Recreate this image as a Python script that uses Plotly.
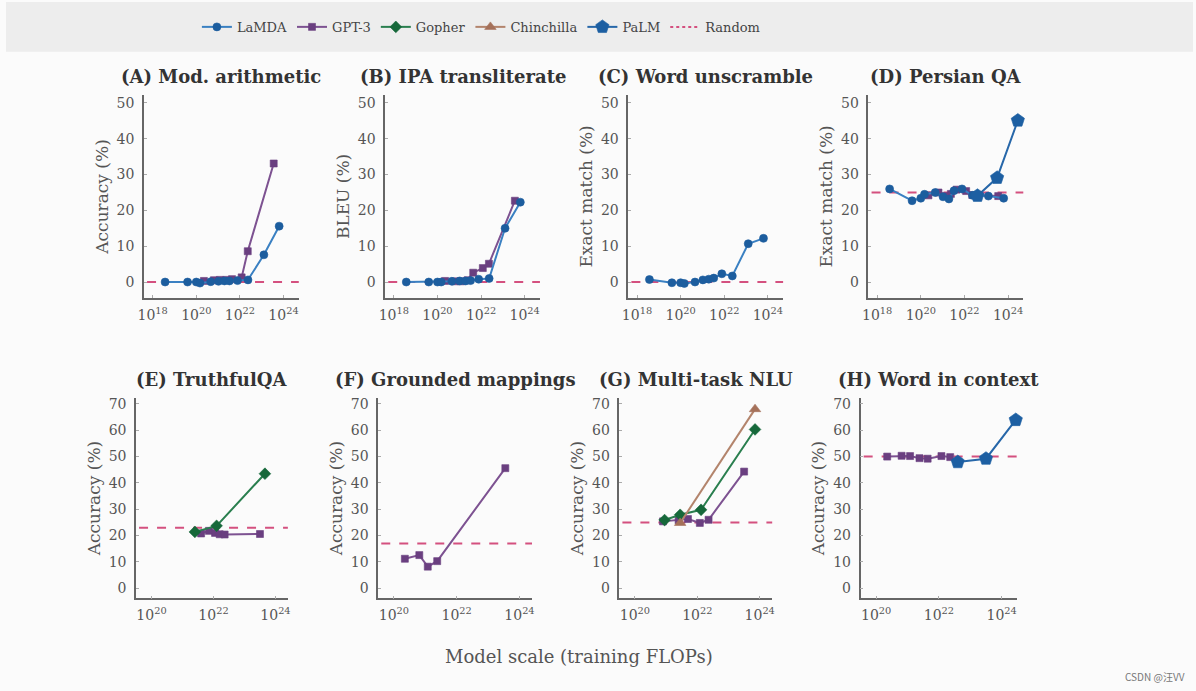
import numpy as np
import plotly.graph_objects as go

W, H = 1196, 691

# ---------------- data (log10 training FLOPs, score %) ----------------
LAMDA_X = [18.57, 19.6, 20.0, 20.17, 20.66, 21.02, 21.29, 21.52, 21.89, 22.37, 23.1, 23.8]
GPT3_X = [20.35, 20.81, 21.08, 21.38, 21.64, 22.08, 22.36, 23.55]
PALM_X = [22.6, 23.5, 24.45]

A_LAMDA = [0, 0, 0, -0.3, 0.1, 0.2, 0.3, 0.3, 0.4, 0.6, 7.6, 15.6]
A_GPT3 = [0.3, 0.5, 0.6, 0.6, 0.8, 1.3, 8.6, 33.1]

B_LAMDA = [0, 0, 0, 0, 0.2, 0.3, 0.3, 0.4, 0.8, 1.0, 15.0, 22.3]
B_GPT3 = [0.3, 0.2, 0.2, 0.5, 2.6, 3.9, 5.1, 22.7]

C_LAMDA = [0.7, -0.2, -0.2, -0.4, 0.0, 0.6, 0.8, 1.1, 2.3, 1.7, 10.7, 12.2]

D_LAMDA = [26.0, 22.7, 23.4, 24.5, 25.0, 23.8, 23.2, 25.5, 26.0, 24.2, 24.0, 23.4]
D_GPT3 = [24.2, 25.0, 24.0, 24.6, 25.8, 25.4, 24.3, 24.0]
D_PALM = [24.1, 29.1, 45.1]

E_GOPHER_X = [21.4, 22.1, 23.66]
E_GOPHER = [21.4, 23.7, 43.5]
E_GPT3_X = [21.6, 21.85, 22.05, 22.2, 22.36, 23.5]
E_GPT3 = [20.8, 21.8, 21.0, 20.5, 20.4, 20.6]

F_GPT3_X = [20.35, 20.81, 21.08, 21.38, 23.55]
F_GPT3 = [11.2, 12.6, 8.2, 10.3, 45.6]

G_GOPHER_X = [20.95, 21.45, 22.12, 23.85]
G_GOPHER = [25.9, 27.9, 29.8, 60.3]
G_CHIN_X = [21.45, 23.85]
G_CHIN = [24.8, 68.0]
G_GPT3_X = [20.9, 21.4, 21.7, 22.08, 22.36, 23.5]
G_GPT3 = [25.4, 25.8, 26.3, 24.8, 26.0, 44.3]

H_GPT3_X = [20.35, 20.81, 21.08, 21.38, 21.64, 22.08, 22.36]
H_GPT3 = [50.0, 50.3, 50.2, 49.4, 49.2, 50.2, 49.8]
H_PALM = [47.9, 49.2, 63.9]

RANDOM = [0, 0, 0, 25, 23, 17, 25, 50]

TITLES = ["(A) Mod. arithmetic", "(B) IPA transliterate", "(C) Word unscramble", "(D) Persian QA",
          "(E) TruthfulQA", "(F) Grounded mappings", "(G) Multi-task NLU", "(H) Word in context"]
YTITLES = ["Accuracy (%)", "BLEU (%)", "Exact match (%)", "Exact match (%)",
           "Accuracy (%)", "Accuracy (%)", "Accuracy (%)", "Accuracy (%)"]
TOP_XTICKS = [18, 20, 22, 24]
BOT_XTICKS = [20, 22, 24]
TOP_YTICKS = [0, 10, 20, 30, 40, 50]
BOT_YTICKS = [0, 10, 20, 30, 40, 50, 60, 70]
SERIES_ORDER = ["LaMDA", "GPT-3", "Gopher", "Chinchilla", "PaLM"]

# ---------------- styling / layout ----------------
STYLE = {
    "LaMDA": dict(color="#3a80c2", mcolor="#1c5d9e", symbol="circle", size=8),
    "GPT-3": dict(color="#7d5291", mcolor="#6a3f80", symbol="square", size=7),
    "Gopher": dict(color="#2a7f4f", mcolor="#16683a", symbol="diamond", size=9),
    "Chinchilla": dict(color="#b3846c", mcolor="#a5715a", symbol="triangle-up", size=10),
    "PaLM": dict(color="#2767a9", mcolor="#1d5fa2", symbol="pentagon", size=14),
}
RANDOM_COLOR = "#d4507f"
FONT = "DejaVu Serif"

panels = [
    {"GPT-3": (GPT3_X, A_GPT3), "LaMDA": (LAMDA_X, A_LAMDA)},
    {"GPT-3": (GPT3_X, B_GPT3), "LaMDA": (LAMDA_X, B_LAMDA)},
    {"LaMDA": (LAMDA_X, C_LAMDA)},
    {"GPT-3": (GPT3_X, D_GPT3), "LaMDA": (LAMDA_X, D_LAMDA), "PaLM": (PALM_X, D_PALM)},
    {"GPT-3": (E_GPT3_X, E_GPT3), "Gopher": (E_GOPHER_X, E_GOPHER)},
    {"GPT-3": (F_GPT3_X, F_GPT3)},
    {"GPT-3": (G_GPT3_X, G_GPT3), "Chinchilla": (G_CHIN_X, G_CHIN), "Gopher": (G_GOPHER_X, G_GOPHER)},
    {"GPT-3": (H_GPT3_X, H_GPT3), "PaLM": (PALM_X, H_PALM)},
]

XPX = [(139, 295), (382, 538), (627, 783), (869, 1025),
       (131, 284), (375, 530), (618, 772), (861, 1019)]
TOP_YPX = (93, 297)
BOT_YPX = (397, 598)
XRANGES = [[17.6, 24.7]] * 4 + [[19.5, 24.4]] * 3 + [[19.5, 24.5]]
TOP_YRANGE = [-4.5, 52.3]
BOT_YRANGE = [-3.8, 72.3]

fig = go.Figure()
shown = set()
layout = {}
annotations = []
shapes = [dict(type="rect", xref="paper", yref="paper", x0=0, x1=1, y0=1 - 50 / H, y1=1,
               fillcolor="#ededed", line=dict(width=0), layer="below")]

for i, series in enumerate(panels):
    k = i + 1
    top = i < 4
    xa = "x" if k == 1 else f"x{k}"
    ya = "y" if k == 1 else f"y{k}"
    ypx = TOP_YPX if top else BOT_YPX
    x0, x1 = XPX[i]
    xdom = [x0 / W, x1 / W]
    ydom = [1 - ypx[1] / H, 1 - ypx[0] / H]
    xticks = TOP_XTICKS if top else BOT_XTICKS
    yticks = TOP_YTICKS if top else BOT_YTICKS
    layout["xaxis" if k == 1 else f"xaxis{k}"] = dict(
        domain=xdom, anchor=ya, type="log",
        range=XRANGES[i],
        tickvals=[10.0 ** t for t in xticks],
        ticktext=[f"10<sup>{t}</sup>" for t in xticks],
        showline=True, linecolor="#666", linewidth=1.5, mirror=False,
        ticks="inside", ticklen=3, tickcolor="#aaa", showgrid=False, zeroline=False,
        tickfont=dict(family=FONT, size=14, color="#555"), ticklabelstandoff=3,
    )
    layout["yaxis" if k == 1 else f"yaxis{k}"] = dict(
        domain=ydom, anchor=xa,
        range=TOP_YRANGE if top else BOT_YRANGE,
        tickvals=yticks,
        showline=True, linecolor="#666", linewidth=1.5,
        ticks="inside", ticklen=3, tickcolor="#aaa", showgrid=False, zeroline=False,
        tickfont=dict(family=FONT, size=14, color="#555"), ticklabelstandoff=5,
        title=dict(text=YTITLES[i], font=dict(family=FONT, size=17, color="#555"), standoff=4),
    )
    annotations.append(dict(
        text=f"<b>{TITLES[i]}</b>", xref="paper", yref="paper",
        x=(xdom[0] + xdom[1]) / 2, y=1 - (ypx[0] - 18) / H,
        xanchor="center", yanchor="middle", showarrow=False,
        font=dict(family=FONT, size=18, color="#333"),
    ))
    shapes.append(dict(type="line", xref=f"{xa} domain", yref=ya, x0=0.02, x1=1.0,
                       y0=RANDOM[i], y1=RANDOM[i],
                       line=dict(color=RANDOM_COLOR, width=2, dash="dash"), layer="below"))
    for name in ["GPT-3", "Gopher", "Chinchilla", "LaMDA", "PaLM"]:
        if name not in series:
            continue
        xs, ys = series[name]
        st = STYLE[name]
        fig.add_trace(go.Scatter(
            x=10.0 ** np.array(xs), y=ys, mode="lines+markers", name=name,
            legendgroup=name, showlegend=name not in shown,
            legendrank=SERIES_ORDER.index(name) + 1, cliponaxis=False,
            line=dict(color=st["color"], width=2),
            marker=dict(symbol=st["symbol"], size=st["size"], color=st["mcolor"],
                        line=dict(width=0.6, color=st["mcolor"])),
            xaxis=xa, yaxis=ya,
        ))
        shown.add(name)

# legend-only entries for series absent from all panels & Random baseline
for name in SERIES_ORDER:
    if name not in shown:
        st = STYLE[name]
        fig.add_trace(go.Scatter(x=[None], y=[None], mode="lines+markers", name=name,
                                 legendrank=SERIES_ORDER.index(name) + 1,
                                 line=dict(color=st["color"], width=2),
                                 marker=dict(symbol=st["symbol"], size=st["size"], color=st["mcolor"])))
fig.add_trace(go.Scatter(x=[None], y=[None], mode="lines", name="Random", legendrank=6,
                         line=dict(color=RANDOM_COLOR, width=2, dash="dot")))

annotations.append(dict(text="Model scale (training FLOPs)", xref="paper", yref="paper",
                        x=577 / W, y=1 - 656 / H, xanchor="center", yanchor="middle",
                        showarrow=False, font=dict(family=FONT, size=18, color="#555")))
annotations.append(dict(text="CSDN @汪VV", xref="paper", yref="paper",
                        x=1190 / W, y=1 - 676 / H, xanchor="right", yanchor="middle",
                        showarrow=False, font=dict(family="Noto Sans CJK SC", size=10, color="#777")))

fig.update_layout(
    width=W, height=H, margin=dict(l=0, r=0, t=0, b=0),
    paper_bgcolor="#fbfbfb", plot_bgcolor="rgba(0,0,0,0)",
    showlegend=True,
    legend=dict(orientation="h", x=479 / W, y=1 - 25 / H, xanchor="center", yanchor="middle",
                font=dict(family=FONT, size=13, color="#444"), bgcolor="rgba(0,0,0,0)",
                itemwidth=30, traceorder="normal"),
    annotations=annotations, shapes=shapes,
    **layout,
)

fig.write_html("out.html")
